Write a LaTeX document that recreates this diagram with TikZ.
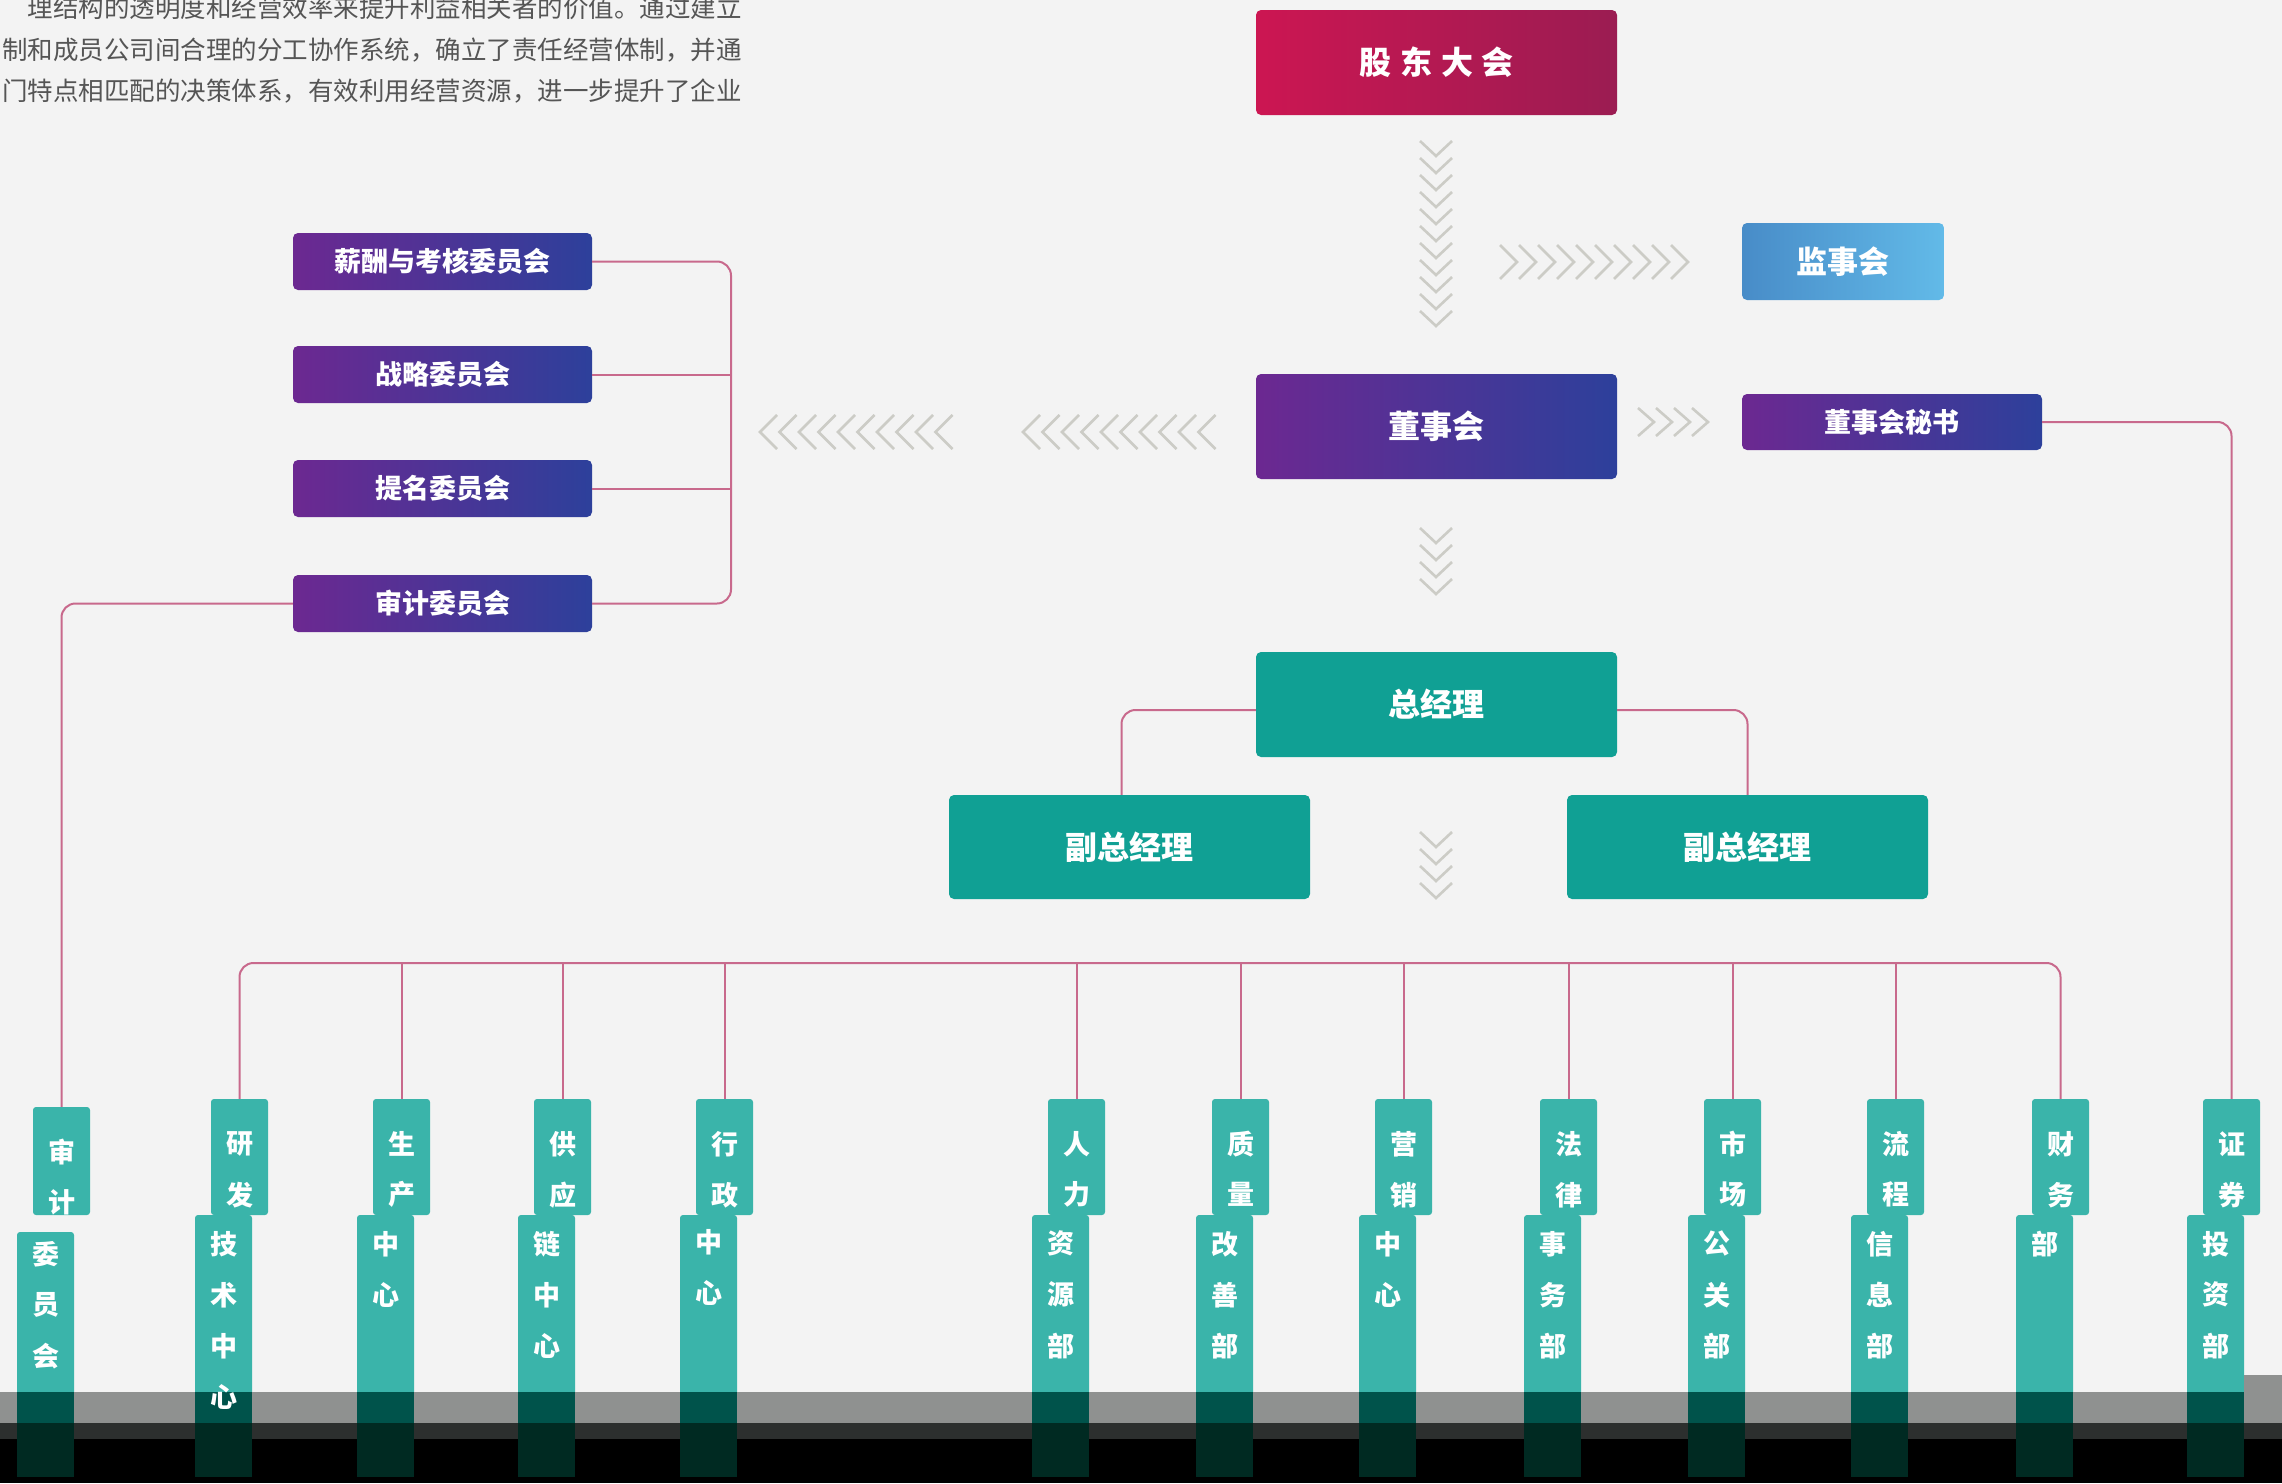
\documentclass[tikz,border=0pt]{standalone}
\usepackage{fontspec}
\usetikzlibrary{calc}
\newfontfamily\cjk{Noto Sans CJK SC}
\definecolor{bgc}{RGB}{243,243,243}
\definecolor{crL}{RGB}{204,22,82}
\definecolor{crR}{RGB}{155,28,82}
\definecolor{blL}{RGB}{72,140,200}
\definecolor{blR}{RGB}{98,186,232}
\definecolor{puL}{RGB}{108,40,145}
\definecolor{puR}{RGB}{45,64,155}
\definecolor{teal1}{RGB}{16,160,148}
\definecolor{tabc}{RGB}{58,180,170}
\definecolor{lnc}{RGB}{200,105,140}
\definecolor{chev}{RGB}{204,204,198}
\definecolor{txtg}{RGB}{85,85,85}
\definecolor{band1}{RGB}{143,145,144}
\definecolor{band2}{RGB}{44,47,46}
\definecolor{tabd1}{RGB}{0,83,75}
\definecolor{tabd2}{RGB}{0,42,34}
\newcommand\chevdown[4]{\foreach \k in {1,...,#3}{\draw[chv] (#1-16,#2+#4*\k-#4) -- (#1,#2+#4*\k-#4+15) -- (#1+16,#2+#4*\k-#4);}}
\newcommand\chevright[6]{\foreach \k in {1,...,#3}{\draw[chv] (#1+#4*\k-#4,#2-#6) -- (#1+#4*\k-#4+#5,#2) -- (#1+#4*\k-#4,#2+#6);}}
\newcommand\chevleft[6]{\foreach \k in {1,...,#3}{\draw[chv] (#1+#4*\k-#4+#5,#2-#6) -- (#1+#4*\k-#4,#2) -- (#1+#4*\k-#4+#5,#2+#6);}}
\begin{document}
\begin{tikzpicture}[x=1pt,y=-1pt,
  box/.style={rounded corners=5pt, inner sep=0pt, text=white, font=\cjk\bfseries\fontsize{32}{36}\selectfont},
  big/.style={box, minimum width=361pt, minimum height=105pt},
  gred/.style={left color=crL, right color=crR},
  gblu/.style={left color=blL, right color=blR},
  gpur/.style={left color=puL, right color=puR},
  gtea/.style={fill=teal1},
  cmt/.style={box, gpur, minimum width=299pt, minimum height=57pt, font=\cjk\bfseries\fontsize{27}{30}\selectfont},
  conn/.style={draw=lnc, line width=2pt, rounded corners=14pt},
  chv/.style={draw=chev, line width=2.6pt},
  tabtop/.style={fill=tabc, rounded corners=3pt, minimum width=57pt, inner sep=0pt},
  tabbot/.style={fill=tabc, rounded corners=3pt, minimum width=57pt, inner sep=0pt},
  tch/.style={text=white, font=\cjk\bfseries\fontsize{27}{30}\selectfont, inner sep=0pt},
  para/.style={text=txtg, font=\cjk\fontsize{25.5}{30}\selectfont, inner sep=0pt, anchor=east}
]
\useasboundingbox (0,0) rectangle (2282,1483);
\fill[bgc] (0,0) rectangle (2282,1483);

% paragraph
\node[para] (p1) at (742,8) {理结构的透明度和经营效率来提升利益相关者的价值。通过建立};
\node[para] (p2) at (742,50) {制和成员公司间合理的分工协作系统，确立了责任经营体制，并通};
\node[para] (p3) at (742,91) {门特点相匹配的决策体系，有效利用经营资源，进一步提升了企业};

% main boxes
\node[big,gred] (gd) at (1436.5,62.5) {股\hspace{9pt}东\hspace{9pt}大\hspace{9pt}会};
\node[box,gblu,minimum width=202pt,minimum height=77pt,font=\cjk\bfseries\fontsize{31}{36}\selectfont] (jsh) at (1843,261.5) {监事会};
\node[big,gpur] (dsh) at (1436.5,426.5) {董事会};
\node[box,gpur,minimum width=300pt,minimum height=56pt,font=\cjk\bfseries\fontsize{27}{30}\selectfont] (ms) at (1892,422) {董事会秘书};
\node[big,gtea] (zjl) at (1436.5,704.5) {总经理};
\node[big,gtea,minimum height=104pt] (fz1) at (1129.5,847) {副总经理};
\node[big,gtea,minimum height=104pt] (fz2) at (1747.5,847) {副总经理};

% committees
\node[cmt] (c1) at (442.5,261.5) {薪酬与考核委员会};
\node[cmt] (c2) at (442.5,374.5) {战略委员会};
\node[cmt] (c3) at (442.5,488.5) {提名委员会};
\node[cmt] (c4) at (442.5,603.5) {审计委员会};

% tabs: index / left x of top part / top y / bottom-part start y
\foreach \i/\x/\ty/\ys in {0/33/1107/1232,1/211/1099/1215,2/373/1099/1215,3/534/1099/1215,4/696/1099/1215,5/1048/1099/1215,6/1212/1099/1215,7/1375/1099/1215,8/1540/1099/1215,9/1704/1099/1215,10/1867/1099/1215,11/2032/1099/1215,12/2203/1099/1215}{
  \pgfmathsetmacro\bh{1477-\ys}
  \pgfmathsetmacro\bc{(1477+\ys)/2}
  \pgfmathsetmacro\th{1215-\ty}
  \pgfmathsetmacro\tc{(1215+\ty)/2}
  \node[tabbot, minimum height=\bh pt] (tb\i) at (\x+12.5,\bc) {};
  \node[tabtop, minimum height=\th pt] (ta\i) at (\x+28.5,\tc) {};
}

% bottom bands
\fill[band1] (0,1392) rectangle (2282,1423);
\fill[band1] (2244,1375) rectangle (2282,1392);
\fill[band2] (0,1423) rectangle (2282,1439);
\fill[black] (0,1439) rectangle (2282,1483);
\foreach \i in {0,...,12}{
  \fill[tabd1] (tb\i.west |- 0,1392) rectangle (tb\i.east |- 0,1423);
  \fill[tabd2] (tb\i.west |- 0,1423) rectangle (tb\i.east |- 0,1477);
}

% tab texts: index / top chars / bottom chars / bottom text offset
\foreach \i/\ta/\tb/\bo in {0/{审,计}/{委,员,会}/22,1/{研,发}/{技,术,中,心}/29,2/{生,产}/{中,心}/29,3/{供,应}/{链,中,心}/29,4/{行,政}/{中,心}/27,5/{人,力}/{资,源,部}/29,6/{质,量}/{改,善,部}/29,7/{营,销}/{中,心}/29,8/{法,律}/{事,务,部}/29,9/{市,场}/{公,关,部}/29,10/{流,程}/{信,息,部}/29,11/{财,务}/{部}/29,12/{证,券}/{投,资,部}/29}{
  \foreach \c [count=\k from 0] in \ta {\node[tch] (tt\i-\k) at ($(ta\i.north)+(0,45+51*\k)$) {\c};}
  \foreach \c [count=\k from 0] in \tb {\node[tch] (tbt\i-\k) at ($(tb\i.north)+(0,\bo+51*\k)$) {\c};}
}

% connectors
\coordinate (bk) at (731,0);
\coordinate (bus) at (0,963);
\draw[conn] (c1.east) -- (c1.east -| bk) |- (c4.east);
\draw[conn] (c2.east) -- (c2.east -| bk);
\draw[conn] (c3.east) -- (c3.east -| bk);
\draw[conn] (c4.west) -| (ta0.north);
\draw[conn] (ms.east) -| (ta12.north);
\draw[conn] ([yshift=-5.5pt]zjl.west) -| ([xshift=-8pt]fz1.north);
\draw[conn] ([yshift=-5.5pt]zjl.east) -| (fz2.north);
\draw[conn] (ta1.north) |- (bus -| ta11.north) -- (ta11.north);
\foreach \k in {2,...,10}{\draw[conn] (bus -| ta\k.north) -- (ta\k.north);}

% chevrons
\chevdown{1436}{141}{11}{17}
\chevdown{1436}{528}{4}{17}
\chevdown{1436}{832}{4}{17}
\chevright{1500}{262}{10}{19}{17}{17}
\chevright{1638}{422}{4}{18}{16}{14}
\chevleft{760}{432}{10}{19.5}{17}{17}
\chevleft{1023}{432}{10}{19.5}{17}{17}
\end{tikzpicture}
\end{document}
